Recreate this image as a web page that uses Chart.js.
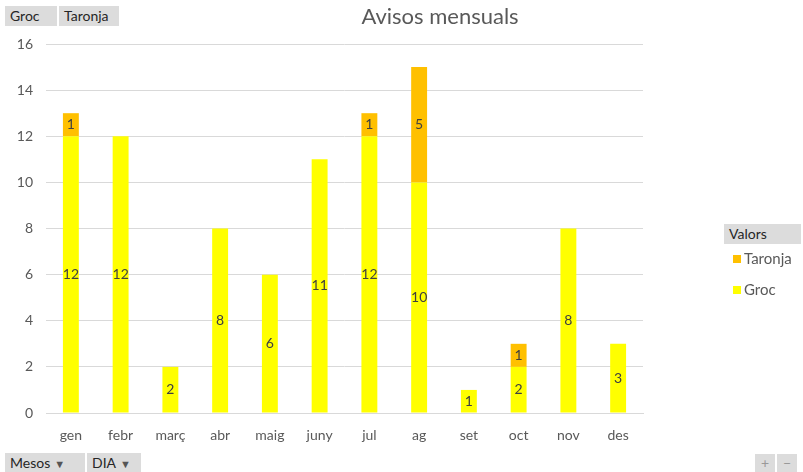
<!DOCTYPE html>
<html>
<head>
<meta charset="utf-8">
<script src="https://cdn.jsdelivr.net/npm/chart.js@4"></script>
<style>
  body { margin: 0; background: #fff; font-family: Lato, "Open Sans", sans-serif; }
  #wrap { position: relative; width: 803px; height: 472px; overflow: hidden; }
  #c { position: absolute; left: 0; top: 0; }
  .btn { position: absolute; background: #dcdcdc; color: #262626; font-size: 14px; line-height: 20px; height: 20px; padding: 0 5px; box-sizing: border-box; }
  .arrow { font-size: 11px; color: #555; margin-left: 4px; }
  #title { position: absolute; left: 240px; width: 400px; top: 2px; text-align: center; font-size: 22px; color: #595959; }
  .leg { position: absolute; left: 733px; font-size: 15px; color: #595959; }
  .sw { display: inline-block; width: 8px; height: 8px; margin-right: 3px; vertical-align: 1px; }
</style>
</head>
<body>
<div id="wrap">
  <canvas id="c" width="803" height="472"></canvas>
  <div id="title">Avisos mensuals</div>
  <div class="btn" style="left:5px;top:6px;width:52px;">Groc</div>
  <div class="btn" style="left:59px;top:6px;width:60px;">Taronja</div>
  <div class="btn" style="left:724px;top:224px;width:77px;">Valors</div>
  <div class="leg" style="top:249px;"><span class="sw" style="background:#ffc000"></span>Taronja</div>
  <div class="leg" style="top:280px;"><span class="sw" style="background:#ffff00"></span>Groc</div>
  <div class="btn" style="left:5px;top:453px;width:80px;height:19px;">Mesos<span class="arrow">&#9660;</span></div>
  <div class="btn" style="left:87px;top:453px;width:54px;height:19px;">DIA<span class="arrow">&#9660;</span></div>
  <div class="btn" style="left:755px;top:454px;width:20px;height:18px;color:#999;text-align:center;padding:0;line-height:17px;">+</div>
  <div class="btn" style="left:777px;top:454px;width:20px;height:18px;color:#999;text-align:center;padding:0;line-height:17px;">&minus;</div>
</div>
<script>
// ── DATA ──
const mesos = ['gen', 'febr', 'març', 'abr', 'maig', 'juny', 'jul', 'ag', 'set', 'oct', 'nov', 'des'];
const groc = [12, 12, 2, 8, 6, 11, 12, 10, 1, 2, 8, 3];
const taronja = [1, null, null, null, null, null, 1, 5, null, 1, null, null];

// labels centred in each bar segment
const segLabels = {
  id: 'segLabels',
  afterDatasetsDraw(chart) {
    const ctx = chart.ctx;
    ctx.save();
    ctx.font = '14px Lato, "Open Sans", sans-serif';
    ctx.fillStyle = '#404040';
    ctx.textAlign = 'center';
    ctx.textBaseline = 'middle';
    chart.data.datasets.forEach((ds, i) => {
      chart.getDatasetMeta(i).data.forEach((bar, j) => {
        const v = ds.data[j];
        if (v == null) return;
        ctx.fillText(v, bar.x, (bar.y + bar.base) / 2);
      });
    });
    ctx.restore();
  }
};

const tc = '#595959', gc = '#d9d9d9';
new Chart(document.getElementById('c'), {
  type: 'bar',
  data: {
    labels: mesos,
    datasets: [
      { label: 'Groc', data: groc, backgroundColor: '#ffff00', barPercentage: 0.32, categoryPercentage: 1 },
      { label: 'Taronja', data: taronja, backgroundColor: '#ffc000', barPercentage: 0.32, categoryPercentage: 1 }
    ]
  },
  options: {
    responsive: false,
    animation: false,
    layout: { padding: { left: 0, right: 160, top: 44, bottom: 29 } },
    plugins: { legend: { display: false }, tooltip: { enabled: false } },
    scales: {
      x: {
        stacked: true,
        grid: { display: false },
        border: { color: gc },
        ticks: { color: tc, font: { size: 14, family: 'Lato' }, padding: 6 },
        afterFit: s => { s.height = 30; }
      },
      y: {
        stacked: true,
        min: 0, max: 16,
        grid: { color: gc, drawTicks: false },
        border: { display: false },
        ticks: { stepSize: 2, color: tc, font: { size: 14, family: 'Lato' }, padding: 13 },
        afterFit: s => { s.width = 46; }
      }
    }
  },
  plugins: [segLabels]
});
</script>
</body>
</html>
